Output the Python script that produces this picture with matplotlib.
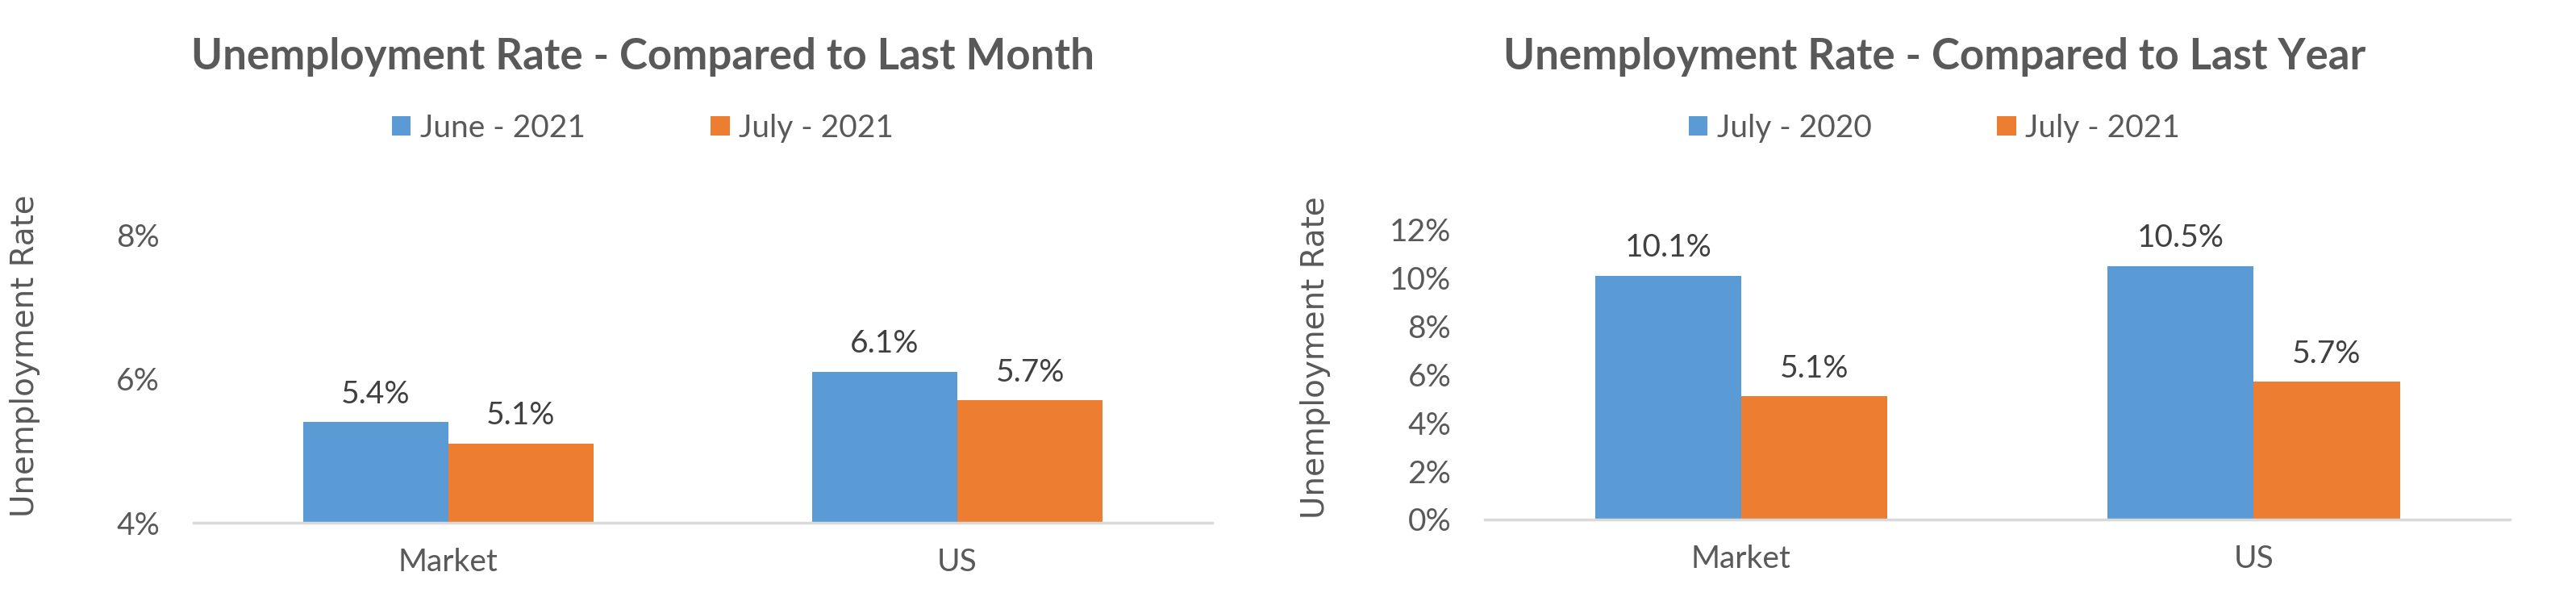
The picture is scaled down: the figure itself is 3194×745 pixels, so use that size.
import matplotlib.pyplot as plt
import numpy as np

plt.rcParams['font.family'] = ['Lato', 'DejaVu Sans']

categories = ['Market', 'US']

month_labels = ['June - 2021', 'July - 2021']
month_june = [5.4, 6.1]
month_july = [5.1, 5.7]

year_labels = ['July - 2020', 'July - 2021']
year_2020 = [10.1, 10.5]
year_2021 = [5.1, 5.7]

blue = '#5B9BD5'
orange = '#ED7D31'
grey = '#595959'

fig = plt.figure(figsize=(31.94, 7.45), dpi=100)


def draw(ax, a, b, names, ylim, ticks, title, title_x, ylab_x, ylab_y):
    x = np.arange(len(categories))
    w = 0.285
    b1 = ax.bar(x - w / 2, a, w, color=blue, label=names[0], bottom=0)
    b2 = ax.bar(x + w / 2, b, w, color=orange, label=names[1])
    for bars, vals in [(b1, a), (b2, b)]:
        for r, v in zip(bars, vals):
            ax.annotate(f'{v:.1f}%', (r.get_x() + r.get_width() / 2, v),
                        xytext=(0, 12), textcoords='offset points',
                        ha='center', va='bottom', fontsize=28, color='#404040')
    ax.set_xlim(-0.5, 1.5)
    ax.set_ylim(*ylim)
    ax.set_yticks(ticks)
    ax.set_yticklabels([f'{t}%' for t in ticks])
    ax.set_xticks(x)
    ax.set_xticklabels(categories)
    ax.tick_params(length=0, labelsize=28, labelcolor=grey)
    ax.tick_params(axis='x', pad=22)
    ax.tick_params(axis='y', pad=30)
    for s in ['top', 'right', 'left']:
        ax.spines[s].set_visible(False)
    ax.spines['bottom'].set_color('#D9D9D9')
    ax.spines['bottom'].set_linewidth(2.5)
    ax.set_ylabel('Unemployment Rate', fontsize=28, color=grey,
                  family='DejaVu Sans')
    ax.yaxis.set_label_coords(ylab_x, ylab_y)
    fig.text(title_x, 0.905, title, ha='center', va='center',
             fontsize=38, fontweight='bold', color=grey)
    fig.legend(handles=[b1, b2], labels=names, loc='center',
               bbox_to_anchor=(title_x, 0.787), ncol=2, frameon=False,
               fontsize=28, labelcolor=grey, handlelength=0.6,
               handleheight=0.6, columnspacing=4.0, handletextpad=0.3)


ax1 = fig.add_axes([0.0751, 0.130, 0.3954, 0.479])
draw(ax1, month_june, month_july, month_labels, (4, 8), [4, 6, 8],
     'Unemployment Rate - Compared to Last Month', 0.2495, -0.150, 0.58)

ax2 = fig.add_axes([0.5764, 0.1356, 0.398, 0.482])
draw(ax2, year_2020, year_2021, year_labels, (0, 12), [0, 2, 4, 6, 8, 10, 12],
     'Unemployment Rate - Compared to Last Year', 0.751, -0.150, 0.56)

fig.savefig('out.png', dpi=100, facecolor='white')
